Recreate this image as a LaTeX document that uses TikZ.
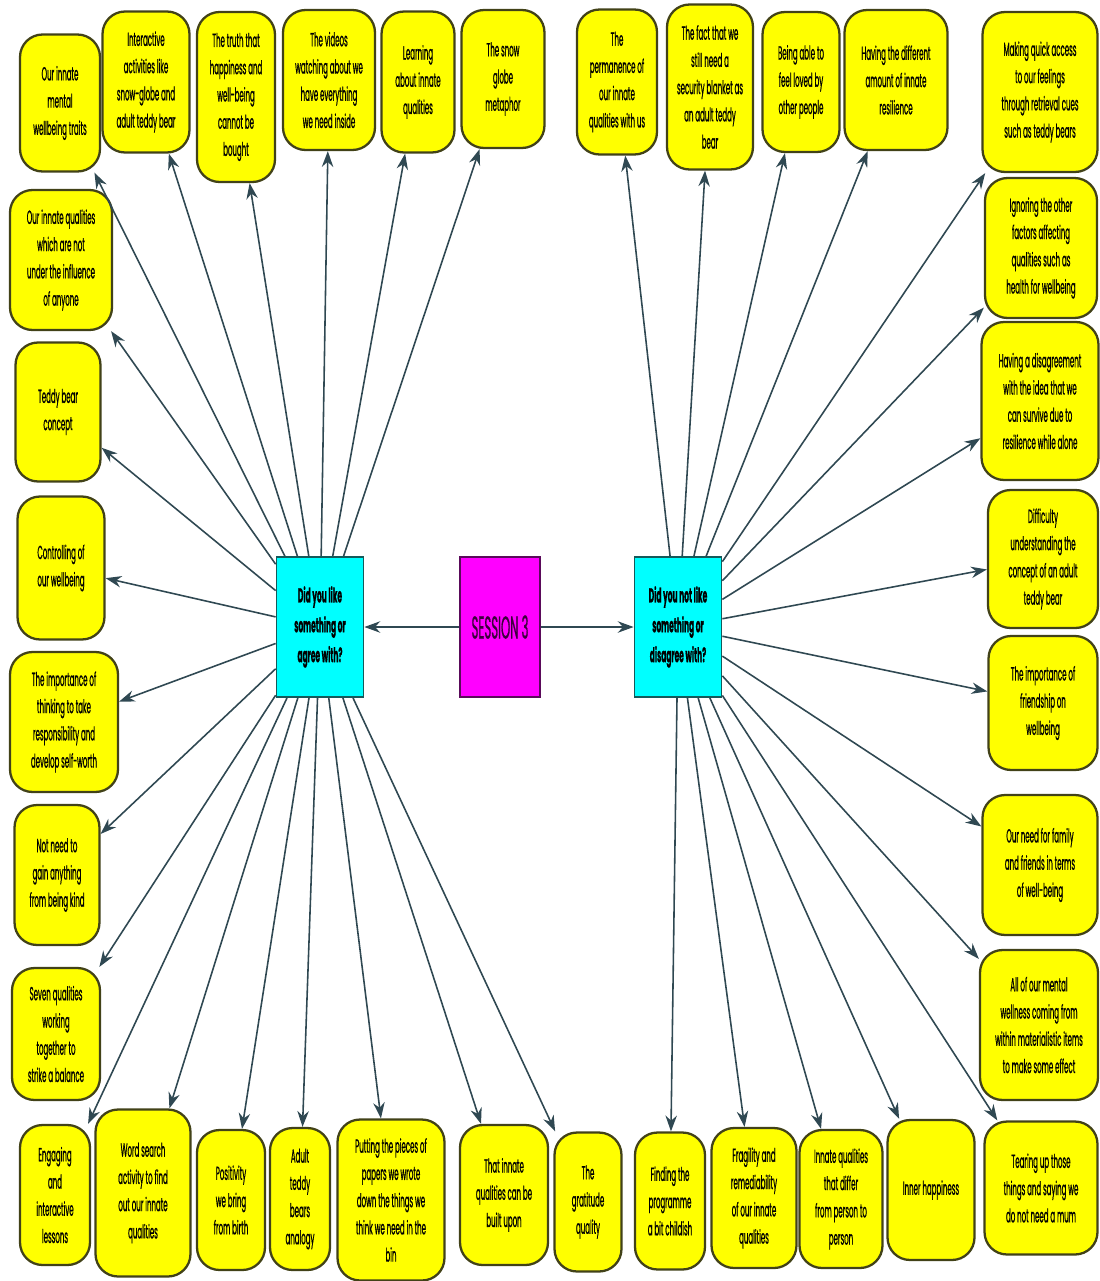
\documentclass[tikz,border=0pt]{standalone}
\usepackage{fontspec}
\setmainfont{Poppins}[FakeStretch=0.37, FakeBold=0.6]
\usetikzlibrary{arrows.meta}

\definecolor{ideafill}{RGB}{255,255,0}
\definecolor{ideaedge}{RGB}{66,66,24}
\definecolor{qfill}{RGB}{0,255,255}
\definecolor{qedge}{RGB}{20,90,90}
\definecolor{sfill}{RGB}{255,0,255}
\definecolor{sedge}{RGB}{90,10,90}
\definecolor{stext}{RGB}{60,0,60}
\definecolor{linkgrey}{RGB}{47,72,82}

\begin{document}
\begin{tikzpicture}[
    x=0.02cm, y=-0.02cm,
    idea/.style={rectangle, draw=ideaedge, line width=1.3pt, fill=ideafill, rounded corners=0.45cm, align=center, inner sep=1pt, font=\fontsize{10.8}{15.5}\selectfont},
    wh/.style 2 args={minimum width=#1, minimum height=#2},
    question/.style={rectangle, draw=qedge, line width=1pt, fill=qfill, minimum width=1.74cm, minimum height=2.8cm, align=center, font=\fontsize{11.5}{17}\selectfont\bfseries},
    session/.style={rectangle, draw=sedge, line width=1pt, fill=sfill, text=stext, minimum width=1.6cm, minimum height=2.8cm, inner sep=1pt, align=center, font=\fontsize{18}{20}\selectfont},
    arrow/.style={-{Stealth[length=9pt, width=6.5pt]}, draw=linkgrey, line width=0.9pt}
]
\useasboundingbox (0,0) rectangle (1099,1281);

% Centre
\node[session] (Session) at (500,627) {SESSION 3};
\node[question] (Like) at (320,627) {Did you like\\something or\\agree with?};
\node[question] (Dislike) at (678,627) {Did you not like\\something or\\disagree with?};

% Top row, liked
\node[idea, wh={1.60cm}{2.74cm}] (TopA) at (60,103) {Our innate\\mental\\wellbeing traits};
\node[idea, wh={1.74cm}{2.82cm}] (TopB) at (146,82) {Interactive\\activities like\\snow-globe and\\adult teddy bear};
\node[idea, wh={1.56cm}{3.40cm}] (TopC) at (236,97) {The truth that\\happiness and\\well-being\\cannot be\\bought};
\node[idea, wh={1.84cm}{2.80cm}] (TopD) at (329,80) {The videos\\watching about we\\have everything\\we need inside};
\node[idea, wh={1.46cm}{2.82cm}] (TopE) at (418,82) {Learning\\about innate\\qualities};
\node[idea, wh={1.66cm}{2.76cm}] (TopF) at (503,79) {The snow\\globe\\metaphor};

% Top row, disliked
\node[idea, wh={1.60cm}{2.90cm}] (TopG) at (617,82) {The\\permanence of\\our innate\\qualities with us};
\node[idea, wh={1.72cm}{3.30cm}] (TopH) at (710,87) {The fact that we\\still need a\\security blanket as\\an adult teddy\\bear};
\node[idea, wh={1.54cm}{2.80cm}] (TopI) at (801,82) {Being able to\\feel loved by\\other people};
\node[idea, wh={2.06cm}{2.80cm}] (TopJ) at (896,80) {Having the different\\amount of innate\\resilience};
\node[idea, wh={2.30cm}{3.20cm}] (TopK) at (1040,92) {Making quick access\\to our feelings\\through retrieval cues\\such as teddy bears};

% Left column
\node[idea, wh={2.04cm}{2.80cm}] (LeftA) at (61,260) {Our innate qualities\\which are not\\under the influence\\of anyone};
\node[idea, wh={1.70cm}{2.78cm}] (LeftB) at (58,412) {Teddy bear\\concept};
\node[idea, wh={1.74cm}{2.86cm}] (LeftC) at (61,568) {Controlling of\\our wellbeing};
\node[idea, wh={2.16cm}{2.80cm}] (LeftD) at (64,722) {The importance of\\thinking to take\\responsibility and\\develop self-worth};
\node[idea, wh={1.70cm}{2.80cm}] (LeftE) at (57,875) {Not need to\\gain anything\\from being kind};
\node[idea, wh={1.76cm}{2.64cm}] (LeftF) at (56,1034) {Seven qualities\\working\\together to\\strike a balance};

% Right column
\node[idea, wh={2.24cm}{2.80cm}] (RightA) at (1041,248) {Ignoring the other\\factors affecting\\qualities such as\\health for wellbeing};
\node[idea, wh={2.34cm}{3.16cm}] (RightB) at (1040,401) {Having a disagreement\\with the idea that we\\can survive due to\\resilience while alone};
\node[idea, wh={2.20cm}{2.76cm}] (RightC) at (1043,559) {Difficulty\\understanding the\\concept of an adult\\teddy bear};
\node[idea, wh={2.18cm}{2.68cm}] (RightD) at (1043,703) {The importance of\\friendship on\\wellbeing};
\node[idea, wh={2.30cm}{2.80cm}] (RightE) at (1040,865) {Our need for family\\and friends in terms\\of well-being};
\node[idea, wh={2.36cm}{3.00cm}] (RightF) at (1039,1025) {All of our mental\\wellness coming from\\within materialistic items\\to make some effect};
\node[idea, wh={2.26cm}{2.66cm}] (RightG) at (1041,1188) {Tearing up those\\things and saying we\\do not need a mum};

% Bottom row, liked
\node[idea, wh={1.40cm}{2.80cm}] (BotA) at (55,1195) {Engaging\\and\\interactive\\lessons};
\node[idea, wh={1.90cm}{3.34cm}] (BotB) at (143,1193) {Word search\\activity to find\\out our innate\\qualities};
\node[idea, wh={1.36cm}{2.80cm}] (BotC) at (231,1200) {Positivity\\we bring\\from birth};
\node[idea, wh={1.20cm}{2.84cm}] (BotD) at (300,1199) {Adult\\teddy\\bears\\analogy};
\node[idea, wh={2.14cm}{3.22cm}] (BotE) at (391,1200) {Putting the pieces of\\papers we wrote\\down the things we\\think we need in the\\bin};
\node[idea, wh={1.76cm}{2.80cm}] (BotF) at (504,1195) {That innate\\qualities can be\\built upon};
\node[idea, wh={1.34cm}{2.78cm}] (BotG) at (588,1202) {The\\gratitude\\quality};

% Bottom row, disliked
\node[idea, wh={1.40cm}{2.74cm}] (BotH) at (670,1201) {Finding the\\programme\\a bit childish};
\node[idea, wh={1.70cm}{2.80cm}] (BotI) at (754,1198) {Fragility and\\remediability\\of our innate\\qualities};
\node[idea, wh={1.66cm}{2.76cm}] (BotJ) at (841,1199) {Innate qualities\\that differ\\from person to\\person};
\node[idea, wh={1.74cm}{2.80cm}] (BotK) at (931,1190) {Inner happiness};

% Edges from the session
\draw[arrow] (Session) -- (Like);
\draw[arrow] (Session) -- (Dislike);

% Edges, liked
\draw[arrow] (Like) -- (TopA);
\draw[arrow] (Like) -- (TopB);
\draw[arrow] (Like) -- (TopC);
\draw[arrow] (Like) -- (TopD);
\draw[arrow] (Like) -- (TopE);
\draw[arrow] (Like) -- (TopF);
\draw[arrow] (Like) -- (LeftA);
\draw[arrow] (Like) -- (LeftB);
\draw[arrow] (Like) -- (LeftC);
\draw[arrow] (Like) -- (LeftD);
\draw[arrow] (Like) -- (LeftE);
\draw[arrow] (Like) -- (LeftF);
\draw[arrow] (Like) -- (BotA);
\draw[arrow] (Like) -- (BotB);
\draw[arrow] (Like) -- (BotC);
\draw[arrow] (Like) -- (BotD);
\draw[arrow] (Like) -- (BotE);
\draw[arrow] (Like) -- (BotF);
\draw[arrow] (Like) -- (BotG);

% Edges, disliked
\draw[arrow] (Dislike) -- (TopG);
\draw[arrow] (Dislike) -- (TopH);
\draw[arrow] (Dislike) -- (TopI);
\draw[arrow] (Dislike) -- (TopJ);
\draw[arrow] (Dislike) -- (TopK);
\draw[arrow] (Dislike) -- (RightA);
\draw[arrow] (Dislike) -- (RightB);
\draw[arrow] (Dislike) -- (RightC);
\draw[arrow] (Dislike) -- (RightD);
\draw[arrow] (Dislike) -- (RightE);
\draw[arrow] (Dislike) -- (RightF);
\draw[arrow] (Dislike) -- (RightG);
\draw[arrow] (Dislike) -- (BotH);
\draw[arrow] (Dislike) -- (BotI);
\draw[arrow] (Dislike) -- (BotJ);
\draw[arrow] (Dislike) -- (BotK);

\end{tikzpicture}
\end{document}
